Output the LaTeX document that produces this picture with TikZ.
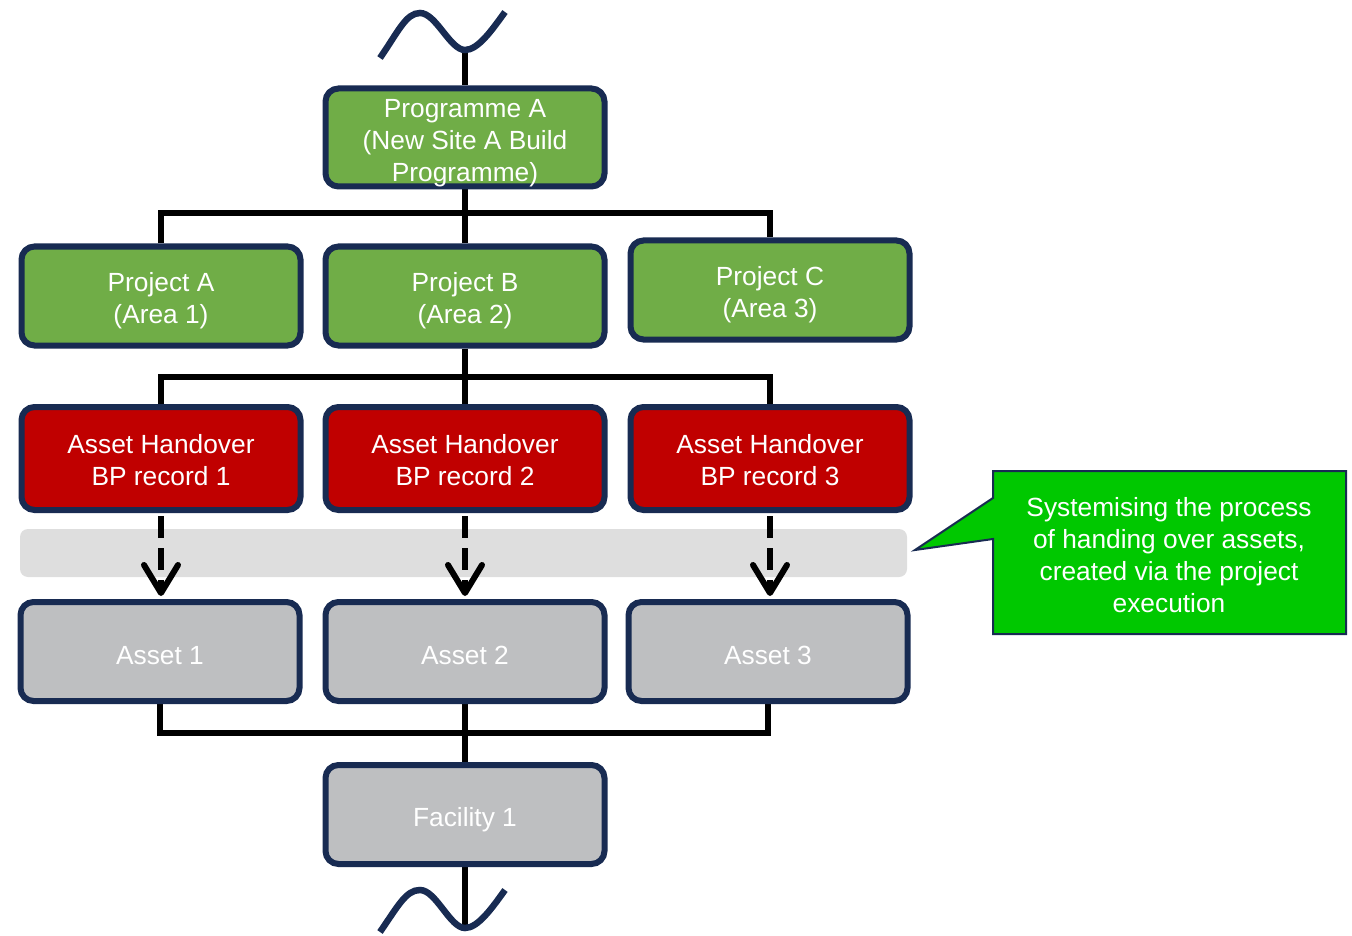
\documentclass[tikz,border=0pt]{standalone}
\usepackage{fontspec}
\setmainfont{Liberation Sans}
\usetikzlibrary{arrows.meta,backgrounds}
\definecolor{navy}{RGB}{24,43,82}
\definecolor{projgreen}{RGB}{112,173,71}
\definecolor{bpred}{RGB}{192,0,0}
\definecolor{assetgray}{RGB}{190,191,193}
\definecolor{bandgray}{RGB}{222,222,222}
\definecolor{callgreen}{RGB}{0,200,0}
\begin{document}
\begin{tikzpicture}[x=1pt,y=-1pt,
  box/.style={draw=navy, line width=6pt, rounded corners=13pt, minimum width=279pt,
    minimum height=99pt, inner sep=0pt},
  lbl/.style={text=white, align=center, inner sep=0pt,
    font=\fontsize{26.3}{32}\selectfont},
  progbox/.style={box, fill=projgreen},
  bpbox/.style={box, fill=bpred, minimum height=103pt},
  assetbox/.style={box, fill=assetgray, minimum height=99pt},
  conn/.style={draw=black, line width=6pt},
  darr/.style={draw=black, line width=6pt, dash pattern=on 22pt off 10pt,
    shorten <=3pt, shorten >=3pt,
    -{Straight Barb[length=28pt,width=34pt,line cap=round,line join=round]}},
  wave/.style={draw=navy, line width=6.5pt}]
\useasboundingbox (0,0) rectangle (1352,936);

% boxes
\node[progbox, minimum height=98pt] (prog) at (465,137.5) {};
\node[progbox] (pA) at (161,296) {};
\node[progbox] (pB) at (465,296) {};
\node[progbox] (pC) at (770,290) {};
\node[bpbox] (r1) at (161,458.5) {};
\node[bpbox] (r2) at (465,458.5) {};
\node[bpbox] (r3) at (770,458.5) {};
\node[assetbox] (a1) at (160,651.5) {};
\node[assetbox] (a2) at (465,651.5) {};
\node[assetbox] (a3) at (768,651.5) {};
\node[assetbox] (fac) at (465,814.5) {};

% texts
\node[lbl] (progt) at ([yshift=-5.5pt]prog.center) {Programme A\\(New Site A Build\\Programme)};
\node[lbl] (pAt) at ([yshift=-5pt]pA.center) {Project A\\(Area 1)};
\node[lbl] (pBt) at ([yshift=-5pt]pB.center) {Project B\\(Area 2)};
\node[lbl] (pCt) at ([yshift=-5pt]pC.center) {Project C\\(Area 3)};
\node[lbl] (r1t) at ([yshift=-2pt]r1.center) {Asset Handover\\BP record 1};
\node[lbl] (r2t) at ([yshift=-2pt]r2.center) {Asset Handover\\BP record 2};
\node[lbl] (r3t) at ([yshift=-2pt]r3.center) {Asset Handover\\BP record 3};
\node[lbl] (a1t) at ([yshift=-4pt]a1.center) {Asset 1};
\node[lbl] (a2t) at ([yshift=-4pt]a2.center) {Asset 2};
\node[lbl] (a3t) at ([yshift=-4pt]a3.center) {Asset 3};
\node[lbl] (fact) at ([yshift=-5pt]fac.center) {Facility 1};

\coordinate (j1) at (465,213);
\coordinate (j2) at (465,377);
\coordinate (j3) at (465,733);
\coordinate (tw) at (465,50);
\coordinate (bw) at (465,928);

\begin{pgfonlayer}{background}
  \fill[bandgray, rounded corners=8pt] (20,529) rectangle (907,577);
  \draw[conn] (tw) -- (prog.north);
  \draw[conn] (prog.south) -- (j1);
  \draw[conn] (pA.north) |- (j1) -| (pC.north);
  \draw[conn] (j1) -- (pB.north);
  \draw[conn] (pB.south) -- (j2);
  \draw[conn] (r1.north) |- (j2) -| (r3.north);
  \draw[conn] (j2) -- (r2.north);
  \draw[conn] (a1.south) |- (j3) -| (a3.south);
  \draw[conn] (a2.south) -- (j3) -- (fac.north);
  \draw[conn] (fac.south) -- (bw);
\end{pgfonlayer}

% dashed arrows
\draw[darr] (r1.south) -- (r1.south |- a1.north);
\draw[darr] (r2.south) -- (r2.south |- a2.north);
\draw[darr] (r3.south) -- (r3.south |- a3.north);

% waves
\draw[wave] (380,58) .. controls (398,32) and (406,13) .. (420,13)
  .. controls (436,13) and (450,50) .. (465,50)
  .. controls (478,50) and (492,30) .. (505,12);
\draw[wave] (380,932) .. controls (398,906) and (406,890) .. (420,890)
  .. controls (436,890) and (450,928) .. (465,928)
  .. controls (478,928) and (492,908) .. (505,890);

% callout
\draw[fill=callgreen, draw=navy, line width=2pt, line join=miter]
  (993,471) -- (1346,471) -- (1346,634) -- (993,634) -- (993,539)
  -- (915,550) -- (993,498) -- cycle;
\node[lbl] (call) at (1169,555)
  {Systemising the process\\of handing over assets,\\created via the project\\execution};
\end{tikzpicture}
\end{document}
